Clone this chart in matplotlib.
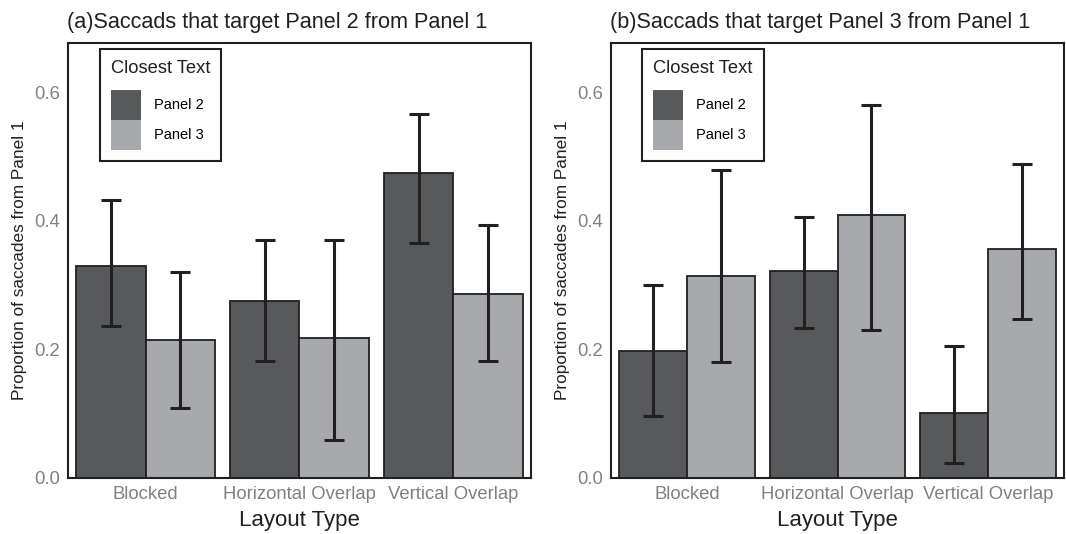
import matplotlib
matplotlib.use('Agg')
import matplotlib.pyplot as plt
import matplotlib.patches as mpatches
import numpy as np

plt.rcParams['font.family'] = ['Liberation Sans', 'DejaVu Sans']

layouts = ['Blocked', 'Horizontal Overlap', 'Vertical Overlap']
groups = ['Panel 2', 'Panel 3']
titles = ['(a)Saccads that target Panel 2 from Panel 1',
          '(b)Saccads that target Panel 3 from Panel 1']

# panel (a): target Panel 2
a_p2 = [0.330, 0.276, 0.475]
a_p2_lo = [0.237, 0.182, 0.366]
a_p2_hi = [0.433, 0.370, 0.567]
a_p3 = [0.215, 0.218, 0.286]
a_p3_lo = [0.109, 0.059, 0.182]
a_p3_hi = [0.320, 0.371, 0.393]

# panel (b): target Panel 3
b_p2 = [0.198, 0.322, 0.101]
b_p2_lo = [0.096, 0.234, 0.024]
b_p2_hi = [0.301, 0.406, 0.206]
b_p3 = [0.315, 0.410, 0.357]
b_p3_lo = [0.181, 0.231, 0.247]
b_p3_hi = [0.480, 0.581, 0.488]

fill_colors = ['#58595b', '#a7a9ac']
ink = '#231f20'
tick_grey = '#808080'

panels = [
    ([a_p2, a_p3], [a_p2_lo, a_p3_lo], [a_p2_hi, a_p3_hi]),
    ([b_p2, b_p3], [b_p2_lo, b_p3_lo], [b_p2_hi, b_p3_hi]),
]

fig = plt.figure(figsize=(10.66, 5.34), dpi=100)
ax_rects = [[0.0638, 0.1049, 0.4343, 0.8146],
            [0.5732, 0.1049, 0.4250, 0.8146]]

x = np.arange(len(layouts))
w = 0.45
for rect, title, (means, los, his) in zip(ax_rects, titles, panels):
    ax = fig.add_axes(rect)
    for i, (m, lo, hi) in enumerate(zip(means, los, his)):
        m = np.array(m); lo = np.array(lo); hi = np.array(hi)
        xs = x + (i - 0.5) * w
        ax.bar(xs, m, width=w, color=fill_colors[i], edgecolor=ink,
               linewidth=1.3, zorder=2)
        ax.errorbar(xs, m, yerr=[m - lo, hi - m], fmt='none', ecolor=ink,
                    elinewidth=2.2, capsize=7.5, capthick=2.2, zorder=3)
    ax.set_xlim(-0.505, 2.505)
    ax.set_ylim(0, 0.677)
    ax.set_yticks([0.0, 0.2, 0.4, 0.6])
    ax.set_yticklabels(['0.0', '0.2', '0.4', '0.6'])
    ax.set_xticks(x)
    ax.set_xticklabels(layouts)
    ax.tick_params(length=0, labelsize=13.3, colors=tick_grey, pad=6)
    for s in ax.spines.values():
        s.set_linewidth(1.5)
        s.set_color(ink)
    ax.set_xlabel('Layout Type', fontsize=16, color=ink, labelpad=5)
    ax.set_ylabel('Proportion of saccades from Panel 1', fontsize=12.4,
                  color=ink, labelpad=5)
    ax.set_title(title, fontsize=15.6, color=ink, loc='left', x=-0.002, pad=11)

    handles = [mpatches.Patch(facecolor=c, edgecolor='none', label=g)
               for c, g in zip(fill_colors, groups)]
    leg = ax.legend(handles=handles, title='Closest Text', loc='upper left',
                    bbox_to_anchor=(0.069, 0.986), borderaxespad=0,
                    fontsize=10.5, title_fontsize=13.2, handlelength=2.05,
                    handleheight=2.8, labelspacing=0.0, handletextpad=0.9,
                    borderpad=0.75, fancybox=False, framealpha=1,
                    edgecolor=ink)
    leg.get_frame().set_linewidth(1.5)
    leg.get_title().set_color(ink)
    leg._legend_box.align = 'left'
    leg._legend_box.sep = 9

fig.savefig('out.png', dpi=100)
